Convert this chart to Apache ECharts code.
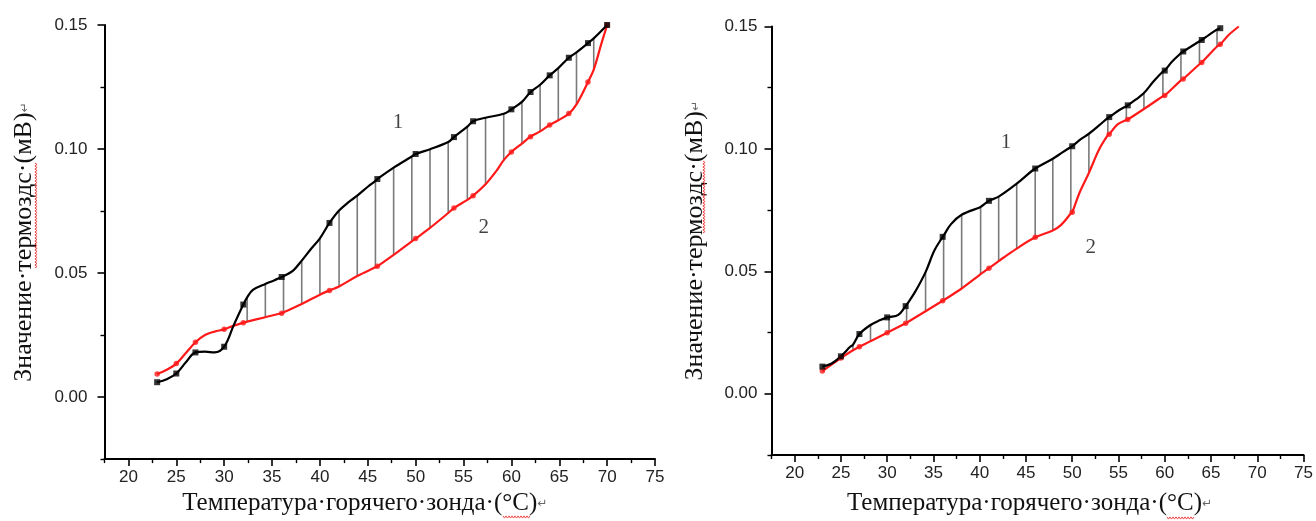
<!DOCTYPE html>
<html>
<head>
<meta charset="utf-8">
<script src="https://cdn.jsdelivr.net/npm/echarts@6/dist/echarts.min.js"></script>
<style>
  html, body { margin: 0; padding: 0; background: #fff; }
  #chart { width: 1316px; height: 521px; }
</style>
</head>
<body>
<div id="chart"></div>
<script>
// ---------- Data ----------
// Tick values
const xTicks = [20, 25, 30, 35, 40, 45, 50, 55, 60, 65, 70, 75];
const xMinorTicks = [17.5, 22.5, 27.5, 32.5, 37.5, 42.5, 47.5, 52.5, 57.5, 62.5, 67.5, 72.5];
const yTicks = [0, 0.05, 0.10, 0.15];
const yMinorTicks = [-0.025, 0.025, 0.075, 0.125];

// Left panel, curve 1 (black)  [temperature °C, mV]
const L_curve1 = [[23.0,0.0060],[24.0,0.0072],[25.0,0.0095],[26.0,0.0140],[27.0,0.0180],[28.0,0.0183],[29.0,0.0180],[30.0,0.0203],[31.0,0.0290],[32.0,0.0373],[32.4,0.0402],[33.0,0.0432],[34.3,0.0456],[35.2,0.0470],[36.0,0.0484],[36.2,0.0487],[37.2,0.0510],[38.1,0.0550],[39.0,0.0594],[40.0,0.0640],[41.0,0.0702],[42.0,0.0752],[43.0,0.0786],[43.9,0.0812],[45.0,0.0848],[45.8,0.0872],[46.0,0.0879],[47.7,0.0925],[49.6,0.0970],[50.0,0.0980],[51.5,0.0999],[53.4,0.1028],[54.0,0.1048],[55.4,0.1090],[56.0,0.1112],[57.3,0.1126],[59.2,0.1142],[60.0,0.1160],[61.1,0.1190],[62.0,0.1230],[63.0,0.1259],[64.0,0.1297],[64.9,0.1326],[66.0,0.1368],[66.8,0.1390],[68.0,0.1427],[68.6,0.1446],[70.0,0.1500]];
// Left panel, curve 2 (red)
const L_curve2 = [[23.0,0.0093],[24.0,0.0110],[25.0,0.0135],[26.0,0.0178],[27.0,0.0221],[28.0,0.0250],[29.0,0.0264],[30.0,0.0273],[31.0,0.0288],[32.0,0.0300],[32.4,0.0304],[34.3,0.0322],[36.0,0.0338],[36.2,0.0341],[38.1,0.0375],[40.0,0.0413],[41.0,0.0430],[42.0,0.0446],[43.9,0.0488],[45.8,0.0523],[46.0,0.0527],[47.7,0.0573],[49.6,0.0628],[50.0,0.0639],[51.5,0.0682],[53.4,0.0742],[54.0,0.0762],[55.4,0.0795],[56.0,0.0812],[57.3,0.0858],[58.4,0.0910],[59.2,0.0955],[60.0,0.0988],[61.1,0.1022],[62.0,0.1050],[63.0,0.1071],[64.0,0.1097],[64.9,0.1116],[66.0,0.1143],[66.8,0.1180],[68.0,0.1270],[68.6,0.1320],[69.4,0.1425],[70.0,0.1500]];
const L_marks1 = [23,25,27,30,32,36,41,46,50,54,56,60,62,64,66,68,70];
const L_marks2 = [23,25,27,30,32,36,41,46,50,54,56,60,62,64,66,68,70];
const L_hatchX = [32.4,34.3,36.2,38.1,40.0,42.0,43.9,45.8,47.7,49.6,51.5,53.4,55.4,57.3,59.2,61.1,63.0,64.9,66.8,68.6];

// Right panel, curve 1 (black)
const R_curve1 = [[23.0,0.0111],[24.0,0.0124],[25.0,0.0153],[26.0,0.0192],[26.3,0.0200],[27.0,0.0244],[28.2,0.0281],[29.2,0.0300],[30.0,0.0312],[30.2,0.0313],[31.2,0.0322],[32.0,0.0358],[32.1,0.0363],[33.0,0.0415],[34.15,0.0497],[35.1,0.0585],[36.0,0.0641],[36.1,0.0646],[36.9,0.0693],[38.05,0.0731],[40.0,0.0761],[40.1,0.0763],[41.0,0.0788],[42.05,0.0805],[44.0,0.0858],[46.0,0.0920],[47.9,0.0960],[48.9,0.0985],[49.85,0.1008],[50.0,0.1011],[50.9,0.1039],[51.8,0.1062],[52.9,0.1096],[53.85,0.1127],[54.0,0.1130],[54.9,0.1154],[55.85,0.1175],[56.0,0.1178],[56.85,0.1201],[57.75,0.1228],[58.8,0.1276],[59.8,0.1316],[60.0,0.1320],[60.8,0.1357],[61.75,0.1391],[62.0,0.1398],[63.75,0.1440],[64.0,0.1445],[64.75,0.1465],[65.65,0.1488],[66.0,0.1493]];
// Right panel, curve 2 (red)
const R_curve2 = [[23.0,0.0093],[25.0,0.0146],[26.3,0.0178],[27.0,0.0192],[28.2,0.0215],[30.0,0.0249],[30.2,0.0253],[32.0,0.0288],[32.1,0.0290],[34.15,0.0337],[36.0,0.0380],[36.1,0.0382],[38.05,0.0430],[40.0,0.0486],[40.1,0.0489],[41.0,0.0513],[42.05,0.0542],[44.0,0.0593],[46.0,0.0639],[47.9,0.0667],[48.8,0.0690],[49.85,0.0736],[50.0,0.0741],[50.8,0.0822],[51.8,0.0902],[52.9,0.0998],[53.85,0.1057],[54.0,0.1060],[54.9,0.1100],[55.85,0.1118],[56.0,0.1120],[57.75,0.1163],[59.8,0.1215],[60.0,0.1218],[61.75,0.1280],[62.0,0.1286],[63.75,0.1346],[64.0,0.1353],[65.65,0.1418],[66.0,0.1427],[66.9,0.1465],[68.0,0.1500]];
const R_marks1 = [23,25,27,30,32,36,41,46,50,54,56,60,62,64,66];
const R_marks2 = [23,25,27,30,32,36,41,46,50,54,56,60,62,64,66];
const R_hatchX = [26.3,28.2,30.2,32.1,34.15,36.1,38.05,40.1,42.05,44.0,46.0,47.9,49.85,51.8,53.85,55.85,57.75,59.8,61.75,63.75,65.65];

// Curve labels
const curveLabels = ['1', '2'];

// ---------- Helpers ----------
function at(curve, x) {
  const p = curve.find(d => Math.abs(d[0] - x) < 1e-6);
  return p ? p[1] : null;
}
function marks(curve, xs) { return xs.map(x => [x, at(curve, x)]); }
function hatch(c1, c2, xs) { return xs.map(x => [x, at(c2, x), at(c1, x)]); }

const serif = '"Liberation Serif", "Times New Roman", serif';
const sans = '"Liberation Sans", Arial, sans-serif';

function xAxisMain(gi, gap, pad) {
  return {
    type: 'value', gridIndex: gi, min: 17.5, max: 75,
    name: 'Температура·горячего·зонда·(°C){r|↵}',
    nameLocation: 'middle', nameGap: gap,
    nameTextStyle: { fontFamily: serif, fontSize: 25, color: '#111', padding: pad,
      rich: { r: { fontFamily: '"DejaVu Sans", sans-serif', fontSize: 12, color: '#666' } } },
    axisLine: { show: true, onZero: false, lineStyle: { color: '#000', width: 2 } },
    axisTick: { show: true, inside: false, length: 7, customValues: xTicks, lineStyle: { color: '#000', width: 1.6 } },
    axisLabel: { show: true, margin: 10, customValues: xTicks, fontFamily: sans, fontSize: 17, color: '#222',
      formatter: v => String(v) },
    splitLine: { show: false }
  };
}
function xAxisMinor(gi) {
  return {
    type: 'value', gridIndex: gi, min: 17.5, max: 75, position: 'bottom',
    axisLine: { show: false, onZero: false },
    axisTick: { show: true, inside: false, length: 4, customValues: xMinorTicks, lineStyle: { color: '#000', width: 1.4 } },
    axisLabel: { show: false }, splitLine: { show: false }
  };
}
function yAxisMain(gi, gap, margin) {
  return {
    type: 'value', gridIndex: gi, min: -0.025, max: 0.15,
    name: 'Значение·термоздс·(мВ){r|↵}',
    nameLocation: 'middle', nameGap: gap, nameRotate: 90,
    nameTextStyle: { fontFamily: serif, fontSize: 26, color: '#111',
      rich: { r: { fontFamily: '"DejaVu Sans", sans-serif', fontSize: 12, color: '#666' } } },
    axisLine: { show: true, onZero: false, lineStyle: { color: '#000', width: 2 } },
    axisTick: { show: true, inside: false, length: 7, customValues: yTicks, lineStyle: { color: '#000', width: 1.6 } },
    axisLabel: { show: true, margin: margin, customValues: yTicks, fontFamily: sans, fontSize: 17, color: '#222',
      formatter: v => v.toFixed(2) },
    splitLine: { show: false }
  };
}
function yAxisMinor(gi) {
  return {
    type: 'value', gridIndex: gi, min: -0.025, max: 0.15, position: 'left',
    axisLine: { show: false, onZero: false },
    axisTick: { show: true, inside: false, length: 4, customValues: yMinorTicks, lineStyle: { color: '#000', width: 1.4 } },
    axisLabel: { show: false }, splitLine: { show: false }
  };
}

function panelSeries(xi, yi, c1, c2, m1, m2, hx, lab) {
  return [
    {
      type: 'custom', xAxisIndex: xi, yAxisIndex: yi, z: 1, silent: true,
      data: hatch(c1, c2, hx),
      encode: { x: 0, y: [1, 2] },
      renderItem: (params, api) => {
        const a = api.coord([api.value(0), api.value(1)]);
        const b = api.coord([api.value(0), api.value(2)]);
        return { type: 'line', shape: { x1: a[0], y1: a[1], x2: b[0], y2: b[1] },
          style: { stroke: '#7a7a7a', lineWidth: 1.6 } };
      }
    },
    { type: 'line', xAxisIndex: xi, yAxisIndex: yi, z: 3, data: c2, smooth: 0.35, showSymbol: false,
      lineStyle: { color: '#ff1a1a', width: 2.2 }, animation: false },
    { type: 'line', xAxisIndex: xi, yAxisIndex: yi, z: 4, data: c1, smooth: 0.35, showSymbol: false,
      lineStyle: { color: '#000', width: 2.2 }, animation: false },
    { type: 'scatter', xAxisIndex: xi, yAxisIndex: yi, z: 5, data: marks(c2, m2), symbol: 'circle', symbolSize: 5.5,
      itemStyle: { color: '#ff1a1a' }, animation: false },
    { type: 'scatter', xAxisIndex: xi, yAxisIndex: yi, z: 6, data: marks(c1, m1), symbol: 'rect', symbolSize: 6,
      itemStyle: { color: '#000' }, animation: false },
    { type: 'scatter', xAxisIndex: xi, yAxisIndex: yi, z: 7, symbolSize: 0, silent: true,
      data: lab.map(d => ({ name: d[2], value: [d[0], d[1]] })),
      label: { show: true, position: 'inside', formatter: p => p.name,
        fontFamily: serif, fontSize: 21, color: '#111' }, animation: false }
  ];
}

// Red wavy "spell-check" underline decoration (as in the source document)
function wavy(x1, y1, x2, y2) {
  const pts = [];
  const len = Math.hypot(x2 - x1, y2 - y1), ux = (x2 - x1) / len, uy = (y2 - y1) / len;
  const nx = -uy, ny = ux;
  for (let s = 0, k = 0; s <= len; s += 1.5, k++) {
    const o = (k % 2 === 0 ? -1 : 1) * 1.1;
    pts.push([x1 + ux * s + nx * o, y1 + uy * s + ny * o]);
  }
  return { type: 'polyline', silent: true, z: 10, shape: { points: pts },
    style: { stroke: '#e33', lineWidth: 0.9, fill: null } };
}

const option = {
  animation: false,
  backgroundColor: '#fff',
  grid: [
    { left: 104.5, top: 25, width: 550.5, height: 435, containLabel: false },
    { left: 771.5, top: 26.5, width: 533.6, height: 430.5, containLabel: false }
  ],
  xAxis: [xAxisMain(0, 31, [0, 30, 0, 0]), xAxisMinor(0), xAxisMain(1, 36, [0, 16, 0, 0]), xAxisMinor(1)],
  yAxis: [yAxisMain(0, 67, 17), yAxisMinor(0), yAxisMain(1, 63, 14), yAxisMinor(1)],
  graphic: [
    wavy(36, 268, 36, 163),
    wavy(704, 233, 704, 160),
    wavy(503, 517, 531, 517),
    wavy(1167, 518, 1195, 518)
  ],
  series: [
    ...panelSeries(0, 0, L_curve1, L_curve2, L_marks1, L_marks2, L_hatchX,
      [[48.15, 0.1106, curveLabels[0]], [57.1, 0.0683, curveLabels[1]]]),
    ...panelSeries(2, 2, R_curve1, R_curve2, R_marks1, R_marks2, R_hatchX,
      [[42.85, 0.1028, curveLabels[0]], [52.0, 0.0598, curveLabels[1]]])
  ]
};

const chart = echarts.init(document.getElementById('chart'), null, { renderer: 'canvas' });
chart.setOption(option);
</script>
</body>
</html>
